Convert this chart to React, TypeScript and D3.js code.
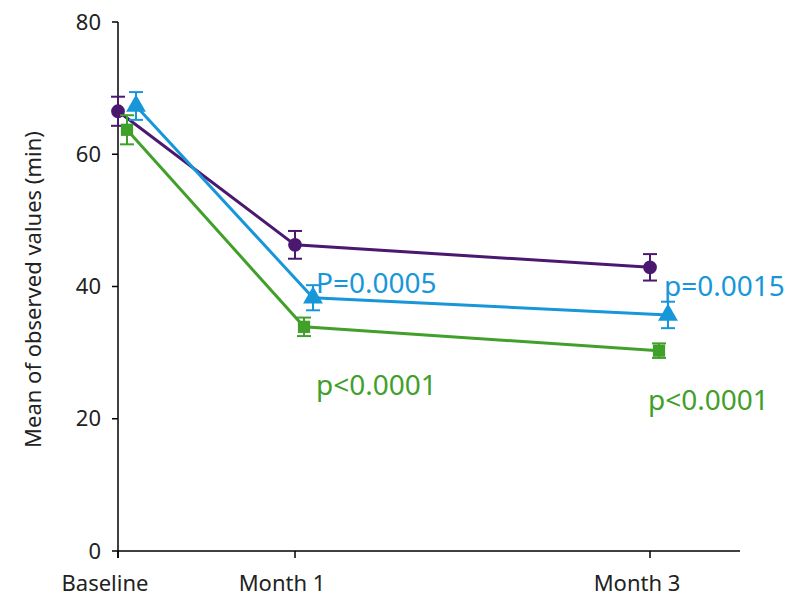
import React from "react";
import * as d3 from "d3";

const categories = ["Baseline", "Month 1", "Month 3"];
const yTicks = [0, 20, 40, 60, 80];
const purpleMean = [66.5, 46.3, 42.9];
const purpleErr = [2.2, 2.1, 2.0];
const blueMean = [67.3, 38.3, 35.7];
const blueErr = [2.1, 1.9, 2.0];
const greenMean = [63.7, 33.9, 30.3];
const greenErr = [2.2, 1.4, 1.1];
const annotations = [
  { text: "P=0.0005", cat: 1, value: 40.5, color: "blue" },
  { text: "p=0.0015", cat: 2, value: 40.0, color: "blue" },
  { text: "p<0.0001", cat: 1, value: 25.1, color: "green" },
  { text: "p<0.0001", cat: 2, value: 22.8, color: "green" },
];

const COLORS: Record<string, string> = {
  purple: "#4b186f",
  blue: "#1797d9",
  green: "#41a02a",
};

const W = 786;
const H = 597;
const m = { left: 118, right: 48, top: 22, bottom: 46 };

export default function App() {
  const catX = d3.scaleOrdinal<string, number>().domain(categories).range([118, 295, 650]);
  const y = d3.scaleLinear().domain([0, 80]).range([H - m.bottom, m.top]);
  const font = "'Noto Sans', sans-serif";

  const series = [
    { key: "purple", mean: purpleMean, err: purpleErr, dx: 0, shape: d3.symbolCircle, size: 150 },
    { key: "green", mean: greenMean, err: greenErr, dx: 9, shape: d3.symbolSquare, size: 150 },
    { key: "blue", mean: blueMean, err: blueErr, dx: 18, shape: d3.symbolTriangle, size: 170 },
  ];
  const line = d3
    .line<number>()
    .x((_, i) => catX(categories[i]))
    .y((d) => y(d));

  return (
    <svg width={W} height={H} style={{ position: "absolute", left: 0, top: 0 }}>
      <rect width={W} height={H} fill="#fff" />
      <line x1={118} x2={118} y1={y(80)} y2={y(0) + 7} stroke="#000" strokeWidth={1.5} />
      <line x1={118} x2={740} y1={y(0)} y2={y(0)} stroke="#000" strokeWidth={1.5} />
      {yTicks.map((t) => (
        <g key={t}>
          <line x1={112} x2={118} y1={y(t)} y2={y(t)} stroke="#000" strokeWidth={1.5} />
          <text x={101} y={y(t)} dy="0.35em" textAnchor="end" fontFamily={font} fontSize={22} fill="#222">
            {t}
          </text>
        </g>
      ))}
      {categories.map((c) => (
        <g key={c}>
          <line x1={catX(c)} x2={catX(c)} y1={y(0)} y2={y(0) + 7} stroke="#000" strokeWidth={1.5} />
          <text x={catX(c) - 13} y={591} textAnchor="middle" fontFamily={font} fontSize={22} fill="#222">
            {c}
          </text>
        </g>
      ))}
      <text
        transform={`translate(41,${(y(0) + y(80)) / 2 + 3}) rotate(-90)`}
        textAnchor="middle"
        fontFamily={font}
        fontSize={22}
        fill="#222"
      >
        Mean of observed values (min)
      </text>
      {series.map((s) => (
        <g key={s.key} transform={`translate(${s.dx},0)`} stroke={COLORS[s.key]} fill={COLORS[s.key]}>
          <path d={line(s.mean) || ""} fill="none" strokeWidth={3} />
          {s.mean.map((v, i) => {
            const cx = catX(categories[i]);
            const t = y(v + s.err[i]);
            const b = y(v - s.err[i]);
            return (
              <g key={i}>
                <line x1={cx} x2={cx} y1={t} y2={b} strokeWidth={2} />
                <line x1={cx - 7} x2={cx + 7} y1={t} y2={t} strokeWidth={2} />
                <line x1={cx - 7} x2={cx + 7} y1={b} y2={b} strokeWidth={2} />
                <path
                  d={d3.symbol().type(s.shape).size(s.size)() || ""}
                  transform={`translate(${cx},${y(v)})`}
                  stroke="none"
                />
              </g>
            );
          })}
        </g>
      ))}
      {annotations.map((a, i) => (
        <text
          key={i}
          x={catX(categories[a.cat]) + (a.cat === 1 ? 21 : a.color === "blue" ? 14 : -2)}
          y={y(a.value)}
          dy="0.35em"
          fontFamily={font}
          fontSize={28}
          fill={COLORS[a.color]}
        >
          {a.text}
        </text>
      ))}
    </svg>
  );
}
